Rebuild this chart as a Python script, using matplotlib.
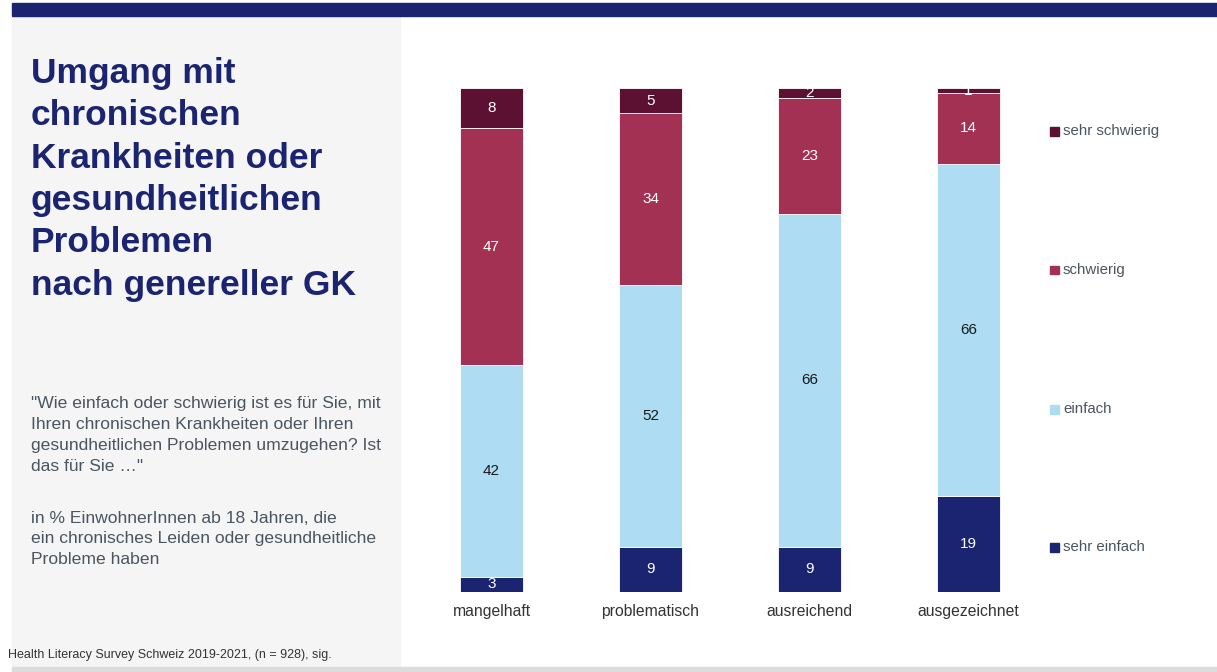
import numpy as np
import matplotlib.pyplot as plt
from matplotlib.patches import Rectangle

plt.rcParams['font.family'] = ['Liberation Sans', 'DejaVu Sans']

# data
categories = ['mangelhaft', 'problematisch', 'ausreichend', 'ausgezeichnet']
sehr_einfach = [3, 9, 9, 19]
einfach = [42, 52, 66, 66]
schwierig = [47, 34, 23, 14]
sehr_schwierig = [8, 5, 2, 1]
series_names = ['sehr einfach', 'einfach', 'schwierig', 'sehr schwierig']
series_vals = [sehr_einfach, einfach, schwierig, sehr_schwierig]
colors = ['#1a2470', '#aedcf2', '#a33154', '#5c1133']
label_colors = ['white', '#1a1a1a', 'white', 'white']

W, H = 1217, 672
fig = plt.figure(figsize=(W / 100, H / 100), dpi=100)

def px(x, y):
    return x / W, 1 - y / H

# background decorations (rectangles given by lower-left corner in pixels)
x0, y0 = px(12, 667)
fig.patches.append(Rectangle((x0, y0), (400 - 12) / W, (667 - 16) / H,
                             transform=fig.transFigure, color='#f5f5f5', zorder=0))
x0, y0 = px(12, 16)
fig.patches.append(Rectangle((x0, y0), 1 - 12 / W, 13 / H,
                             transform=fig.transFigure, color='#1b2470', zorder=1))
fig.patches.append(Rectangle((12 / W, 0), 1 - 12 / W, 5 / H,
                             transform=fig.transFigure, color='#dcdcdc', zorder=1))

# axes: x=-0.5 at px 412, x=3.5 at px 1048; y=0 at px 592, y=100 at px 88
ax = fig.add_axes([412 / W, 1 - 592 / H, (1048 - 412) / W, (592 - 88) / H])
ax.set_xlim(-0.5, 3.5)
ax.set_ylim(0, 100)
ax.axis('off')

x = np.arange(len(categories))
bottom = np.zeros(len(categories))
for name, vals, col, lc in zip(series_names, series_vals, colors, label_colors):
    vals = np.array(vals, dtype=float)
    ax.bar(x, vals, bottom=bottom, width=0.396, color=col,
           edgecolor='white', linewidth=0.6)
    for xi, b, v in zip(x, bottom, vals):
        ax.text(xi, b + v / 2, f'{v:g}', ha='center', va='center',
                fontsize=11, color=lc)
    bottom += vals

for xi, c in zip(x, categories):
    ax.text(xi, -3.8, c, ha='center', va='center', fontsize=11.3,
            color='#333333', clip_on=False)

# legend, drawn manually to keep the spaced layout
leg_y = [547, 409, 270, 131]
for name, col, ly in zip(series_names, colors, leg_y):
    lx, lyf = px(1050, ly + 4.5)
    fig.patches.append(Rectangle((lx, lyf), 9 / W, 9 / H,
                                 transform=fig.transFigure, color=col))
    fig.text(1063 / W, 1 - ly / H, name, ha='left', va='center',
             fontsize=10.8, color='#4a5560')

# left panel texts
fig.text(31 / W, 1 - 57 / H,
         'Umgang mit\nchronischen\nKrankheiten oder\ngesundheitlichen\nProblemen\nnach genereller GK',
         ha='left', va='top', fontsize=25.5, fontweight='bold', color='#1b2470',
         linespacing=1.36)
fig.text(31 / W, 1 - 396 / H,
         '"Wie einfach oder schwierig ist es für Sie, mit\nIhren chronischen Krankheiten oder Ihren\n'
         'gesundheitlichen Problemen umzugehen? Ist\ndas für Sie …"',
         ha='left', va='top', fontsize=12.6, color='#4a5560', linespacing=1.51)
fig.text(31 / W, 1 - 511 / H,
         'in % EinwohnerInnen ab 18 Jahren, die\nein chronisches Leiden oder gesundheitliche\nProbleme haben',
         ha='left', va='top', fontsize=12.6, color='#4a5560', linespacing=1.45)
fig.text(8 / W, 1 - 655 / H, 'Health Literacy Survey Schweiz 2019-2021, (n = 928), sig.',
         ha='left', va='center', fontsize=9, color='#333333')

plt.savefig('out.png', dpi=100)
